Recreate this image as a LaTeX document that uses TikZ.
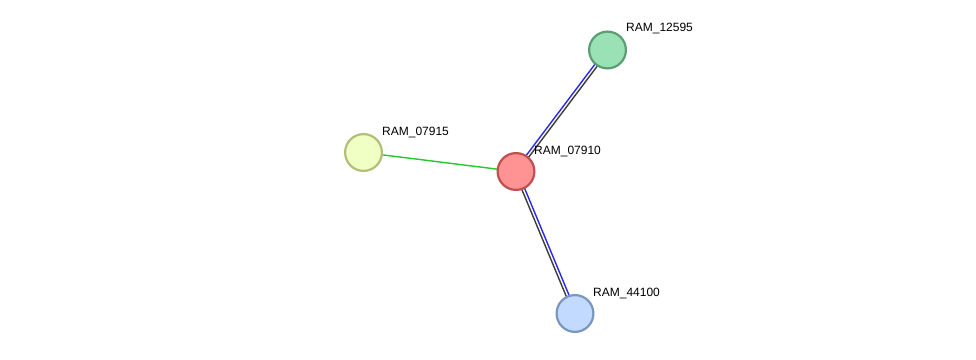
\documentclass[tikz,border=0pt]{standalone}
\usepackage{fontspec}
\setmainfont{Liberation Sans}
\usetikzlibrary{calc,backgrounds}
\definecolor{redfill}{RGB}{255,146,146}
\definecolor{reddraw}{RGB}{190,80,80}
\definecolor{greenfill}{RGB}{155,225,182}
\definecolor{greendraw}{RGB}{90,158,115}
\definecolor{yellowfill}{RGB}{240,255,196}
\definecolor{yellowdraw}{RGB}{180,190,122}
\definecolor{bluefill}{RGB}{194,218,255}
\definecolor{bluedraw}{RGB}{122,150,190}
\definecolor{edgegreen}{RGB}{40,200,40}
\definecolor{edgeblue}{RGB}{40,40,240}
\definecolor{edgegray}{RGB}{60,60,60}
\tikzset{
  prot/.style={circle, minimum size=36.8pt, inner sep=0pt, line width=2.2pt},
  lab/.style={font=\fontsize{12}{14}\selectfont, anchor=west, inner sep=0pt},
  edgeline/.style={line width=1.4pt},
}
\begin{document}
\begin{tikzpicture}[x=1pt,y=1pt]
\useasboundingbox (0,0) rectangle (976,359);
\node[prot, fill=redfill, draw=reddraw] (n07910) at (516,187.5) {};
\node[prot, fill=greenfill, draw=greendraw] (n12595) at (607.5,309) {};
\node[prot, fill=yellowfill, draw=yellowdraw] (n07915) at (363.5,206.5) {};
\node[prot, fill=bluefill, draw=bluedraw] (n44100) at (575,45.5) {};
\node[lab] (l07910) at (534,207) {RAM\_07910};
\node[lab] (l12595) at (626,330.5) {RAM\_12595};
\node[lab] (l07915) at (382,226.5) {RAM\_07915};
\node[lab] (l44100) at (593,65.5) {RAM\_44100};
\begin{scope}[on background layer]
\fill[white] (0,0) rectangle (976,359);
\draw[edgeline, edgegreen] (n07910.center) -- (n07915.center);
\draw[edgeline, edgeblue] ($(n07910.center)!1.5pt!90:(n12595.center)$) -- ($(n12595.center)!1.5pt!-90:(n07910.center)$);
\draw[edgeline, edgegray] ($(n07910.center)!1.5pt!-90:(n12595.center)$) -- ($(n12595.center)!1.5pt!90:(n07910.center)$);
\draw[edgeline, edgeblue] ($(n07910.center)!1.5pt!90:(n44100.center)$) -- ($(n44100.center)!1.5pt!-90:(n07910.center)$);
\draw[edgeline, edgegray] ($(n07910.center)!1.5pt!-90:(n44100.center)$) -- ($(n44100.center)!1.5pt!90:(n07910.center)$);
\end{scope}
\end{tikzpicture}
\end{document}
